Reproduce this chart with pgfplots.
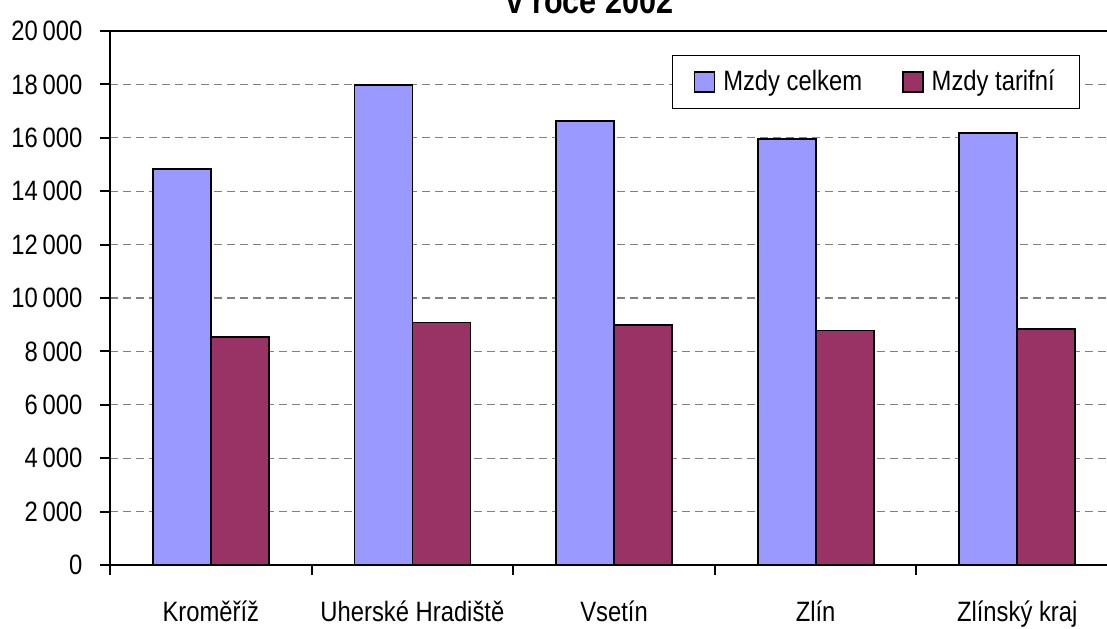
\documentclass[border=0pt]{standalone}
\usepackage{pgfplots}
\pgfplotsset{compat=1.18}
\usepackage{fontspec}
\setmainfont{Liberation Sans}[FakeStretch=0.85]
\definecolor{celkem}{HTML}{9999FF}
\definecolor{tarif}{HTML}{993366}
\begin{document}
\fontsize{14pt}{16pt}\selectfont
\begin{tikzpicture}
\begin{axis}[
  name=ax,
  scale only axis,
  width=504pt, height=267pt,
  xmin=-0.5, xmax=4.5, ymin=0, ymax=20000,
  ybar=0pt, bar width=29pt,
  xtick={-0.5,0.5,1.5,2.5,3.5,4.5},
  x tick label as interval,
  xticklabels={Kroměříž, Uherské Hradiště, Vsetín, Zlín, Zlínský kraj},
  ytick={0,2000,...,20000},
  scaled y ticks=false,
  /pgf/number format/1000 sep={\,},
  /pgf/number format/assume math mode=true,
  tick pos=left,
  tick align=outside,
  major tick length=5pt,
  axis line style={line width=1pt},
  tick style={line width=1pt, black},
  ymajorgrids,
  grid style={gray, dash pattern=on 4pt off 2.5pt, line width=0.6pt},
  tick label style={font=\fontsize{14pt}{16pt}\selectfont},
  xticklabel style={anchor=base, yshift=-23pt},
  yticklabel style={anchor=east, xshift=-4pt},
  legend style={at={(0.5575,0.955)}, anchor=north west, legend columns=2,
    font=\fontsize{14pt}{16pt}\selectfont,
    draw=black, line width=0.7pt, inner xsep=10.5pt, inner ysep=5pt,
    nodes={inner sep=2pt},
    /tikz/every odd column/.append style={column sep=2pt},
    /tikz/every even column/.append style={column sep=18pt}},
  legend image code/.code={\draw[#1, line width=0.8pt] (0pt,-5pt) rectangle (10pt,5pt);},
]
\addplot[fill=celkem, draw=black, line width=0.9pt] coordinates {(0,14840) (1,17990) (2,16630) (3,15950) (4,16190)};
\addlegendentry{Mzdy celkem}
\addplot[fill=tarif, draw=black, line width=0.9pt] coordinates {(0,8550) (1,9080) (2,9000) (3,8780) (4,8850)};
\addlegendentry{Mzdy tarifní}
\end{axis}
\node[font=\bfseries\fontsize{18pt}{21pt}\selectfont, anchor=base, xshift=-12pt, yshift=9pt] at (ax.north) {v roce 2002};
\pgfresetboundingbox
\path[use as bounding box] (ax.south west) ++(-55pt,-31.5pt) rectangle ++(553.5pt,314pt);
\end{tikzpicture}
\end{document}
